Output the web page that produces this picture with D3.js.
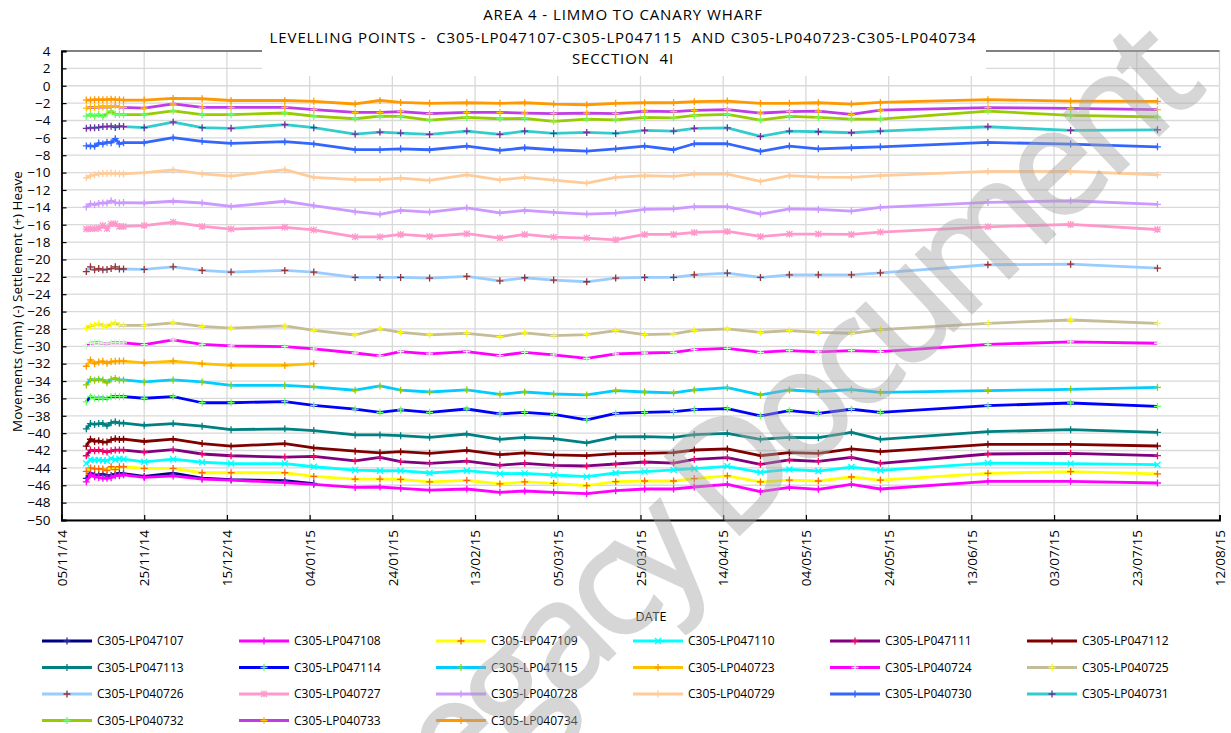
<!DOCTYPE html>
<html>
<head>
<meta charset="utf-8">
<script src="https://cdn.jsdelivr.net/npm/d3@7"></script>
<style>
  body { margin: 0; background: #fff; }
  text { font-family: "Open Sans", sans-serif; fill: #000; }
</style>
</head>
<body>
<svg id="chart" width="1231" height="733"></svg>
<script>
// survey dates (10 daily readings, then roughly weekly)
const surveyDates = [
  '2014-11-11', '2014-11-12', '2014-11-13', '2014-11-14', '2014-11-15',
  '2014-11-16', '2014-11-17', '2014-11-18', '2014-11-19', '2014-11-20',
  '2014-11-25', '2014-12-02', '2014-12-09', '2014-12-16', '2014-12-29',
  '2015-01-05', '2015-01-15', '2015-01-21', '2015-01-26', '2015-02-02',
  '2015-02-11', '2015-02-19', '2015-02-25', '2015-03-04', '2015-03-12',
  '2015-03-19', '2015-03-26', '2015-04-02', '2015-04-07', '2015-04-15',
  '2015-04-23', '2015-04-30', '2015-05-07', '2015-05-15', '2015-05-22',
  '2015-06-17', '2015-07-07', '2015-07-28'
];

const xTickLabels = ['05/11/14', '25/11/14', '15/12/14', '04/01/15', '24/01/15', '13/02/15', '05/03/15',
  '25/03/15', '14/04/15', '04/05/15', '24/05/15', '13/06/15', '03/07/15', '23/07/15', '12/08/15'];
const yTicks = [4, 2, 0, -2, -4, -6, -8, -10, -12, -14, -16, -18, -20, -22, -24, -26, -28, -30,
  -32, -34, -36, -38, -40, -42, -44, -46, -48, -50];

// settlement readings (mm), one array per levelling point
const lp047107 = [-45.2, -44.6, -44.8, -44.8, -44.72, -44.9, -44.87, -44.67, -44.64, -44.67,
  -44.98, -44.6, -45.17, -45.36, -45.48, -45.8];
const lp047108 = [-45.6, -44.8, -45.03, -45.1, -45.2, -45.2, -45.13, -44.9, -44.9, -44.8,
  -45.1, -44.93, -45.3, -45.4, -45.7, -45.9, -46.25, -46.2,
  -46.35, -46.55, -46.43, -46.81, -46.66, -46.81, -46.97, -46.62, -46.43, -46.43, -46.2, -45.89, -46.74, -46.24, -46.47,
  -45.89, -46.43, -45.55, -45.55, -45.74];
const lp047109 = [-44.4, -44.0, -44.1, -44.1, -44.14, -44.3, -43.87, -44.2, -43.87, -43.87,
  -44.06, -44.06, -44.56, -44.56, -44.56, -44.98, -45.29, -45.29,
  -45.32, -45.62, -45.43, -45.85, -45.62, -45.78, -46.05, -45.59, -45.51, -45.51, -45.24, -44.93, -45.62, -45.4, -45.51,
  -45.05, -45.4, -44.63, -44.43, -44.7];
const lp047110 = [-43.5, -43.06, -43.1, -43.1, -43.14, -43.18, -42.9, -43.06, -42.95, -43.0,
  -43.3, -43.0, -43.35, -43.5, -43.5, -43.87, -44.25, -44.33,
  -44.32, -44.59, -44.32, -44.66, -44.63, -44.82, -45.01, -44.59, -44.43, -44.24, -44.09, -43.82, -44.51, -44.17, -44.36,
  -43.9, -44.28, -43.44, -43.51, -43.63];
const lp047111 = [-42.6, -41.95, -42.03, -41.95, -42.07, -42.18, -42.03, -41.95, -41.95, -41.95,
  -42.18, -41.9, -42.4, -42.6, -42.76, -42.68, -43.2, -42.8,
  -43.28, -43.47, -43.21, -43.7, -43.47, -43.7, -43.78, -43.55, -43.32, -43.44, -43.01, -42.82, -43.59, -43.09, -43.24,
  -42.78, -43.47, -42.4, -42.32, -42.59];
const lp047112 = [-41.5, -40.7, -40.96, -40.88, -41.03, -41.03, -40.77, -40.65, -40.73, -40.7,
  -40.96, -40.7, -41.2, -41.5, -41.2, -41.7, -42.07, -42.26,
  -42.13, -42.32, -41.98, -42.48, -42.28, -42.51, -42.59, -42.36, -42.32, -42.25, -41.94, -41.82, -42.59, -42.25, -42.32,
  -41.82, -42.13, -41.29, -41.29, -41.48];
const lp047113 = [-39.5, -38.9, -39.0, -38.9, -38.88, -39.15, -38.8, -38.7, -38.85, -38.85,
  -39.1, -38.9, -39.2, -39.6, -39.5, -39.7, -40.2, -40.2,
  -40.29, -40.48, -40.1, -40.71, -40.48, -40.63, -41.13, -40.44, -40.4, -40.48, -40.17, -40.02, -40.71, -40.48, -40.52,
  -39.9, -40.71, -39.83, -39.6, -39.9];
const lp047114 = [-36.4, -35.8, -35.98, -35.98, -35.94, -36.02, -35.8, -35.76, -35.8, -35.8,
  -35.98, -35.8, -36.5, -36.5, -36.36, -36.8, -37.24, -37.6,
  -37.33, -37.6, -37.22, -37.79, -37.6, -37.83, -38.48, -37.72, -37.6, -37.52, -37.29, -37.18, -38.02, -37.41, -37.72,
  -37.25, -37.6, -36.83, -36.53, -36.91];
const lp047115 = [-34.45, -33.8, -33.9, -33.8, -33.88, -34.2, -33.8, -33.7, -33.87, -33.87,
  -34.1, -33.87, -34.1, -34.5, -34.5, -34.67, -35.06, -34.56,
  -35.05, -35.26, -35.01, -35.53, -35.26, -35.49, -35.6, -35.11, -35.26, -35.37, -35.03, -34.76, -35.6, -35.03, -35.22,
  -34.99, -35.3, -35.1, -34.95, -34.72];
const lp040723 = [-32.3, -31.57, -32.0, -31.8, -31.73, -31.95, -31.76, -31.73, -31.7, -31.7,
  -31.9, -31.7, -32.0, -32.2, -32.2, -32.0];
const lp040724 = [-29.96, -29.65, -29.6, -29.57, -29.7, -29.73, -29.6, -29.57, -29.6, -29.6,
  -29.8, -29.27, -29.77, -29.96, -30.04, -30.3, -30.77, -31.1,
  -30.61, -30.88, -30.61, -31.07, -30.69, -30.99, -31.38, -30.88, -30.77, -30.69, -30.38, -30.23, -30.69, -30.5, -30.65,
  -30.5, -30.61, -29.77, -29.5, -29.65];
const lp040725 = [-27.9, -27.66, -27.55, -27.4, -27.63, -27.7, -27.45, -27.3, -27.6, -27.6,
  -27.6, -27.3, -27.7, -27.9, -27.66, -28.16, -28.7, -28.0,
  -28.39, -28.69, -28.5, -28.89, -28.46, -28.77, -28.65, -28.2, -28.65, -28.58, -28.16, -28.0, -28.39, -28.2, -28.39,
  -28.5, -28.08, -27.35, -26.97, -27.35];
const lp040726 = [-21.4, -20.85, -21.2, -21.05, -21.2, -21.15, -21.05, -20.85, -21.1, -21.1,
  -21.15, -20.85, -21.26, -21.45, -21.26, -21.45, -22.07, -22.07,
  -22.07, -22.15, -21.96, -22.46, -22.11, -22.38, -22.57, -22.15, -22.07, -22.07, -21.77, -21.57, -22.07, -21.77, -21.77,
  -21.77, -21.54, -20.61, -20.54, -21.0];
const lp040727 = [-16.5, -16.45, -16.45, -16.4, -16.1, -16.45, -15.9, -15.9, -16.2, -16.2,
  -16.1, -15.7, -16.2, -16.5, -16.3, -16.6, -17.4, -17.4,
  -17.12, -17.35, -17.04, -17.54, -17.12, -17.43, -17.54, -17.74, -17.12, -17.12, -16.89, -16.78, -17.35, -17.08, -17.08,
  -17.12, -16.85, -16.24, -15.97, -16.55];
const lp040728 = [-13.95, -13.6, -13.7, -13.55, -13.5, -13.5, -13.25, -13.45, -13.5, -13.45,
  -13.5, -13.3, -13.5, -13.9, -13.3, -13.8, -14.5, -14.8,
  -14.36, -14.55, -14.05, -14.63, -14.36, -14.59, -14.78, -14.66, -14.24, -14.17, -13.93, -13.93, -14.78, -14.17, -14.24,
  -14.43, -14.01, -13.44, -13.24, -13.67];
const lp040729 = [-10.6, -10.35, -10.25, -10.15, -10.1, -10.1, -10.05, -10.1, -10.15, -10.15,
  -10.0, -9.7, -10.15, -10.4, -9.66, -10.54, -10.8, -10.8,
  -10.63, -10.9, -10.25, -10.83, -10.56, -10.86, -11.21, -10.56, -10.36, -10.44, -10.17, -10.17, -11.02, -10.36, -10.52,
  -10.56, -10.36, -9.87, -9.87, -10.25];
const lp040730 = [-6.93, -6.93, -6.97, -6.6, -6.7, -6.5, -6.55, -6.1, -6.7, -6.55,
  -6.55, -5.98, -6.4, -6.63, -6.44, -6.7, -7.36, -7.36,
  -7.26, -7.37, -6.95, -7.45, -7.14, -7.37, -7.52, -7.26, -6.95, -7.37, -6.68, -6.68, -7.56, -6.95, -7.26,
  -7.14, -7.03, -6.53, -6.72, -7.03];
const lp040731 = [-4.9, -4.85, -4.85, -4.8, -4.7, -4.7, -4.65, -4.8, -4.65, -4.7,
  -4.83, -4.18, -4.83, -4.9, -4.48, -4.83, -5.56, -5.33,
  -5.45, -5.6, -5.22, -5.6, -5.22, -5.49, -5.37, -5.49, -5.14, -5.22, -4.91, -4.84, -5.83, -5.22, -5.3,
  -5.41, -5.22, -4.72, -5.14, -5.07];
const lp040732 = [-3.5, -3.3, -3.5, -3.3, -3.55, -3.2, -2.9, -3.3, -3.3, -3.33,
  -3.33, -2.9, -3.33, -3.33, -3.14, -3.5, -3.8, -3.5,
  -3.53, -3.95, -3.65, -3.8, -3.76, -4.1, -3.84, -3.92, -3.65, -3.69, -3.42, -3.3, -3.95, -3.53, -3.65,
  -3.84, -3.84, -2.92, -3.42, -3.6];
const lp040733 = [-2.57, -2.5, -2.5, -2.45, -2.45, -2.45, -2.45, -2.3, -2.45, -2.5,
  -2.57, -2.1, -2.5, -2.5, -2.5, -2.75, -3.07, -3.07,
  -2.99, -3.22, -3.07, -3.07, -3.15, -3.22, -3.15, -3.22, -2.92, -2.99, -2.84, -2.76, -3.15, -2.99, -2.92,
  -3.3, -2.8, -2.53, -2.61, -2.76];
const lp040734 = [-1.65, -1.65, -1.6, -1.6, -1.6, -1.6, -1.55, -1.6, -1.6, -1.65,
  -1.65, -1.46, -1.5, -1.7, -1.7, -1.8, -2.1, -1.7,
  -1.92, -2.03, -1.96, -2.03, -1.96, -2.11, -2.19, -2.03, -1.96, -1.96, -1.84, -1.77, -2.03, -2.03, -1.96,
  -2.11, -1.92, -1.61, -1.77, -1.8];

const seriesNames = ['C305-LP047107', 'C305-LP047108', 'C305-LP047109', 'C305-LP047110', 'C305-LP047111',
  'C305-LP047112', 'C305-LP047113', 'C305-LP047114', 'C305-LP047115', 'C305-LP040723', 'C305-LP040724',
  'C305-LP040725', 'C305-LP040726', 'C305-LP040727', 'C305-LP040728', 'C305-LP040729', 'C305-LP040730',
  'C305-LP040731', 'C305-LP040732', 'C305-LP040733', 'C305-LP040734'];
const seriesValues = [lp047107, lp047108, lp047109, lp047110, lp047111, lp047112, lp047113, lp047114,
  lp047115, lp040723, lp040724, lp040725, lp040726, lp040727, lp040728, lp040729, lp040730, lp040731,
  lp040732, lp040733, lp040734];

const lineColors = ['#000080', '#ff00ff', '#ffff00', '#00ffff', '#800080', '#800000', '#008080', '#0000ff',
  '#00ccff', '#ffc000', '#ff00ff', '#c4bd97', '#99ccff', '#ff99cc', '#cc99ff', '#ffcc99', '#3366ff',
  '#33cccc', '#99cc00', '#c03ce6', '#ff9900'];
const markerColors = ['#2a2aa0', '#ff00ff', '#ff6600', '#00ffff', '#ff0066', '#800000', '#008080', '#66ff66',
  '#99cc00', '#ff9900', '#ccffcc', '#ffff00', '#993333', '#ff99cc', '#cc99ff', '#ffcc99', '#3366ff',
  '#7030a0', '#66ff66', '#ffc000', '#ff9900'];
const markerShapes = ['plus', 'plus', 'plus', 'cross', 'plus', 'plus', 'plus', 'plus', 'plus', 'plus', 'plus',
  'plus', 'plus', 'star', 'plus', 'plus', 'plus', 'plus', 'plus', 'plus', 'plus'];

const titleLines = ['AREA 4 - LIMMO TO CANARY WHARF',
  'LEVELLING POINTS -  C305-LP047107-C305-LP047115  AND C305-LP040723-C305-LP040734',
  'SECCTION  4I'];

const plot = { left: 61.5, right: 1219.5, top: 51, bottom: 520 };

const parseIso = d3.timeParse('%Y-%m-%d');
const parseTick = d3.timeParse('%d/%m/%y');

const svg = d3.select('#chart');

const x = d3.scaleTime()
  .domain([parseTick('05/11/14'), parseTick('12/08/15')])
  .range([plot.left, plot.right]);
const y = d3.scaleLinear().domain([-50, 4]).range([plot.bottom, plot.top]);

const xTicks = xTickLabels.map(parseTick);
const fmt = d3.timeFormat('%d/%m/%y');

// gridlines
const grid = svg.append('g').attr('class', 'grid');
grid.selectAll('line.h').data(yTicks).join('line')
  .attr('x1', plot.left).attr('x2', plot.right)
  .attr('y1', d => y(d)).attr('y2', d => y(d))
  .attr('stroke', '#d9d9d9').attr('stroke-width', 1.3);
grid.selectAll('line.v').data(xTicks).join('line')
  .attr('x1', d => x(d)).attr('x2', d => x(d))
  .attr('y1', plot.top).attr('y2', plot.bottom)
  .attr('stroke', '#d9d9d9').attr('stroke-width', 1.3);

// top border
svg.append('line')
  .attr('x1', plot.left).attr('x2', plot.right)
  .attr('y1', plot.top).attr('y2', plot.top)
  .attr('stroke', '#808080').attr('stroke-width', 2);

// axes (ticks point inward like the original)
const xAxis = svg.append('g')
  .attr('transform', `translate(0,${plot.bottom})`)
  .call(d3.axisBottom(x).tickValues(xTicks).tickFormat(fmt).tickSize(-5).tickPadding(10));
xAxis.select('.domain').attr('stroke', '#000').attr('stroke-width', 1.8);
xAxis.selectAll('.tick line').attr('stroke', '#000').attr('stroke-width', 1.2);
xAxis.selectAll('.tick text')
  .attr('font-size', 13.5)
  .attr('transform', 'rotate(-90)')
  .attr('text-anchor', 'end')
  .attr('dy', '0.35em')
  .attr('x', -10).attr('y', 0);

const yAxis = svg.append('g')
  .attr('transform', `translate(${plot.left},0)`)
  .call(d3.axisLeft(y).tickValues(yTicks).tickFormat(d3.format('d')).tickSize(-5).tickPadding(11));
yAxis.select('.domain').attr('stroke', '#000').attr('stroke-width', 1.8);
yAxis.selectAll('.tick line').attr('stroke', '#000').attr('stroke-width', 1.2);
yAxis.selectAll('.tick text').attr('font-size', 13.5);
svg.selectAll('.tick text').style('font-family', '"Open Sans", sans-serif').attr('fill', '#000');

// title box sits over the plot area
svg.append('rect').attr('x', 262).attr('y', 0).attr('width', 724).attr('height', 76).attr('fill', '#fff');
svg.append('g').selectAll('text').data(titleLines).join('text')
  .attr('x', 623).attr('y', (d, i) => [19.5, 42.5, 63.5][i])
  .attr('text-anchor', 'middle')
  .attr('font-size', 15)
  .attr('letter-spacing', 0.9)
  .style('white-space', 'pre')
  .text(d => d);

// axis titles
svg.append('text')
  .attr('transform', `translate(22,${(plot.top + plot.bottom) / 2 + 16}) rotate(-90)`)
  .attr('text-anchor', 'middle').attr('font-size', 13.5)
  .text('Movements (mm) (-) Settlement (+) Heave');
svg.append('text')
  .attr('x', 651).attr('y', 621)
  .attr('text-anchor', 'middle').attr('font-size', 12.5)
  .text('DATE');

// series
const dates = surveyDates.map(parseIso);
const series = seriesNames.map((name, i) => ({
  name,
  color: lineColors[i],
  marker: markerColors[i],
  shape: markerShapes[i],
  points: seriesValues[i].map((v, j) => ({ date: dates[j], v }))
}));

const markerPath = {
  plus: 'M-3.5,0H3.5M0,-3.5V3.5',
  cross: 'M-3,-3L3,3M-3,3L3,-3',
  star: 'M-3.5,0H3.5M0,-3.5V3.5M-3,-3L3,3M-3,3L3,-3'
};

const line = d3.line()
  .x(d => x(d.date))
  .y(d => y(d.v));

const seriesG = svg.append('g').selectAll('g').data(series).join('g');
seriesG.append('path')
  .attr('d', d => line(d.points))
  .attr('fill', 'none')
  .attr('stroke', d => d.color)
  .attr('stroke-width', 2.8)
  .attr('stroke-linejoin', 'round');
seriesG.each(function (s) {
  d3.select(this).selectAll('path.mk').data(s.points).join('path')
    .attr('class', 'mk')
    .attr('transform', p => `translate(${x(p.date)},${y(p.v)})`)
    .attr('d', markerPath[s.shape])
    .attr('stroke', s.marker)
    .attr('stroke-width', 1.3)
    .attr('fill', 'none');
});

// legend, 6 columns
const legend = svg.append('g').selectAll('g').data(series).join('g')
  .attr('transform', (d, i) => `translate(${42 + (i % 6) * 197},${641 + Math.floor(i / 6) * 26.5})`);
legend.append('line')
  .attr('x1', 0).attr('x2', 50).attr('y1', 0).attr('y2', 0)
  .attr('stroke', d => d.color).attr('stroke-width', 2.8);
legend.append('path')
  .attr('transform', 'translate(25,0)')
  .attr('d', d => markerPath[d.shape])
  .attr('stroke', d => d.marker).attr('stroke-width', 1.3).attr('fill', 'none');
legend.append('text')
  .attr('x', 55).attr('y', 0).attr('dy', '0.35em')
  .attr('font-size', 12)
  .text(d => d.name);

// watermark
svg.append('text')
  .attr('transform', 'translate(408,850) rotate(-43.6)')
  .attr('text-anchor', 'start')
  .attr('font-size', 150)
  .attr('letter-spacing', -10)
  .style('fill', '#a6a6a6').style('stroke', '#a6a6a6').style('stroke-width', 3)
  .attr('opacity', 0.45)
  .text('Legacy Document');
</script>
</body>
</html>
